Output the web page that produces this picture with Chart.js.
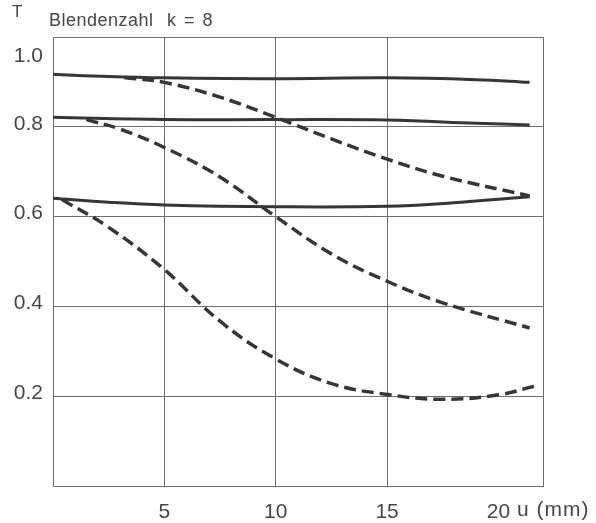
<!DOCTYPE html>
<html>
<head>
<meta charset="utf-8">
<script src="https://cdn.jsdelivr.net/npm/chart.js@4/dist/chart.umd.min.js"></script>
<style>
  body { margin: 0; background: #fff; }
</style>
</head>
<body>
<canvas id="mtfChart" width="596" height="523"></canvas>
<script>
// u (mm) positions and contrast T for each curve
const solidTopU = [0, 2.5, 5, 10, 15, 19, 21.4];
const solidTopT = [0.917, 0.912, 0.909, 0.907, 0.909, 0.905, 0.899];
const solidMidU = [0, 5, 10, 15, 19, 21.4];
const solidMidT = [0.821, 0.816, 0.816, 0.815, 0.808, 0.804];
const solidLowU = [0, 2.5, 5, 10, 15, 18, 21.4];
const solidLowT = [0.641, 0.632, 0.626, 0.622, 0.623, 0.631, 0.644];

const dashTopU = [3.2, 5, 7.5, 10, 12.5, 15, 17.5, 21.4];
const dashTopT = [0.910, 0.899, 0.866, 0.821, 0.773, 0.728, 0.690, 0.646];
const dashMidU = [1.5, 3, 5, 7.5, 10, 12.5, 15, 17.5, 21.4];
const dashMidT = [0.816, 0.795, 0.754, 0.688, 0.600, 0.517, 0.456, 0.408, 0.352];
const dashLowU = [0.4, 2.5, 5, 7.5, 10, 12.5, 15, 17.5, 20, 21.6];
const dashLowT = [0.638, 0.576, 0.482, 0.367, 0.283, 0.228, 0.204, 0.193, 0.203, 0.222];

const xTicks = [0, 5, 10, 15, 20, 22];
const xLabels = ['', '5', '10', '15', '20', ''];
const yLabels = ['', '0.2', '0.4', '0.6', '0.8', '1.0'];

const ink = '#363636';
const gridGray = '#6e6e6e';
const textGray = '#474747';
const fontFamily = "'Liberation Sans', Arial, Helvetica, sans-serif";

const toPoints = (us, ts) => us.map((u, i) => ({ x: u, y: ts[i] }));

const line = (us, ts, dashed) => ({
    data: toPoints(us, ts),
    borderColor: ink,
    borderWidth: dashed ? 3.5 : 3,
    borderDash: dashed ? [12, 6] : [],
    pointRadius: 0,
    fill: false,
    tension: 0.4,
});

// extra texts: axis letter, aperture note, unit after "20", raised "1.0"
const annotations = {
    id: 'annotations',
    afterDraw(chart) {
        const ctx = chart.ctx;
        const xs = chart.scales.x;
        const ys = chart.scales.y;
        ctx.save();
        ctx.fillStyle = textGray;
        ctx.textBaseline = 'alphabetic';
        ctx.textAlign = 'left';

        ctx.font = '17px ' + fontFamily;
        ctx.fillText('T', 12, 17);
        ctx.font = '18px ' + fontFamily;
        ctx.letterSpacing = '0.5px';
        ctx.fillText('Blendenzahl', 49, 26);
        ctx.letterSpacing = '1.5px';
        ctx.fillText('k = 8', 167, 26);
        ctx.letterSpacing = '0px';

        ctx.font = '21px ' + fontFamily;
        ctx.textAlign = 'right';
        ctx.fillText('1.0', 43, ys.getPixelForValue(1.0) + 25);

        ctx.textAlign = 'left';
        const x20 = xs.getPixelForValue(20) + ctx.measureText('20').width / 2;
        ctx.textBaseline = 'top';
        ctx.letterSpacing = '1px';
        ctx.fillText(' u (mm)', x20, xs.top + 14);
        ctx.restore();
    }
};

new Chart(document.getElementById('mtfChart').getContext('2d'), {
    type: 'line',
    data: {
        datasets: [
            line(solidTopU, solidTopT, false),
            line(solidMidU, solidMidT, false),
            line(solidLowU, solidLowT, false),
            line(dashTopU, dashTopT, true),
            line(dashMidU, dashMidT, true),
            line(dashLowU, dashLowT, true),
        ],
    },
    options: {
        responsive: false,
        animation: false,
        layout: { padding: { top: 37, right: 53, left: 0, bottom: 0 } },
        plugins: {
            legend: { display: false },
            tooltip: { enabled: false },
        },
        scales: {
            x: {
                type: 'linear',
                min: 0,
                max: 22,
                afterBuildTicks: (scale) => {
                    scale.ticks = xTicks.map((v) => ({ value: v }));
                },
                afterFit: (scale) => { scale.height = 37; },
                grid: {
                    drawTicks: false,
                    color: (c) => (c.tick && c.tick.value === 20 ? 'rgba(0,0,0,0)' : gridGray),
                    lineWidth: 1,
                },
                border: { color: gridGray, width: 1 },
                ticks: {
                    padding: 14,
                    color: textGray,
                    font: { family: fontFamily, size: 21 },
                    maxRotation: 0,
                    autoSkip: false,
                    callback: (v) => xLabels[xTicks.indexOf(v)] || '',
                },
            },
            y: {
                min: 0,
                max: 1,
                afterBuildTicks: (scale) => {
                    scale.ticks = [0, 0.2, 0.4, 0.6, 0.8, 1.0].map((v) => ({ value: v }));
                },
                afterFit: (scale) => { scale.width = 53; },
                grid: { drawTicks: false, color: gridGray, lineWidth: 1 },
                border: { color: gridGray, width: 1 },
                ticks: {
                    padding: 10,
                    labelOffset: -3,
                    color: textGray,
                    font: { family: fontFamily, size: 21 },
                    callback: (v, i) => (i === 5 ? '' : yLabels[i]),
                },
            },
        },
    },
    plugins: [annotations],
});
</script>
</body>
</html>
